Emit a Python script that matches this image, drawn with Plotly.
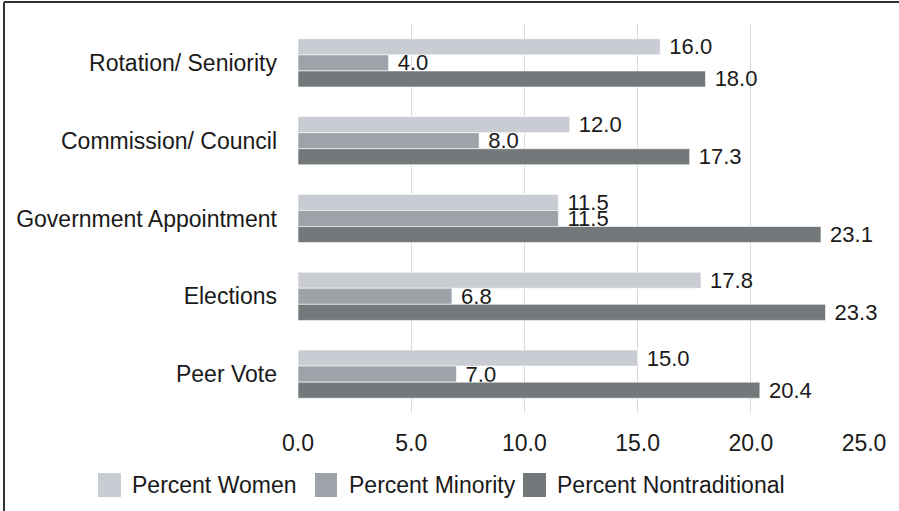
import plotly.graph_objects as go

categories = ["Rotation/ Seniority", "Commission/ Council", "Government Appointment", "Elections", "Peer Vote"]
series_names = ["Percent Women", "Percent Minority", "Percent Nontraditional"]
women = [16.0, 12.0, 11.5, 17.8, 15.0]
minority = [4.0, 8.0, 11.5, 6.8, 7.0]
nontraditional = [18.0, 17.3, 23.1, 23.3, 20.4]
colors = ["#c9ccd3", "#9ea3a9", "#73787a"]
x_ticks = [0, 5, 10, 15, 20, 25]
x_ticklabels = ["0.0", "5.0", "10.0", "15.0", "20.0", "25.0"]

W, H = 899, 511
ML, MR, MT, MB = 298, 35, 24, 98
PW, PH = W - ML - MR, H - MT - MB

def px(x):
    return (x - ML) / PW

def py(y):
    return (H - MB - y) / PH

FONT = "Liberation Sans, Arial, sans-serif"
FS = 23
fig = go.Figure()
for name, vals, col in zip(series_names, [women, minority, nontraditional], colors):
    fig.add_trace(go.Bar(
        y=categories, x=vals, name=name, orientation="h",
        marker=dict(color=col, line=dict(color="white", width=0.6)),
        text=["\u00a0" + f"{v:.1f}" for v in vals], textposition="outside",
        constraintext="none",
        textfont=dict(family=FONT, size=22, color="#1a1a1a"),
        cliponaxis=False, showlegend=False,
    ))

shapes = []
annotations = []
legend_items = [(98, 121, 130), (315, 337, 347), (523, 546, 555)]
for (x0, x1, tx), name, col in zip(legend_items, series_names, colors):
    shapes.append(dict(type="rect", xref="paper", yref="paper",
                       x0=px(x0), x1=px(x1), y0=py(497), y1=py(473),
                       fillcolor=col, line=dict(width=0)))
    annotations.append(dict(xref="paper", yref="paper", x=px(tx), y=py(485),
                            xanchor="left", yanchor="middle", text=name, showarrow=False,
                            font=dict(family=FONT, size=FS, color="#1a1a1a")))
# frame lines (left and top)
shapes.append(dict(type="line", xref="paper", yref="paper", x0=px(4), x1=px(4), y0=py(2), y1=py(511),
                   line=dict(color="#333333", width=2)))
shapes.append(dict(type="line", xref="paper", yref="paper", x0=px(4), x1=px(899), y0=py(2), y1=py(2),
                   line=dict(color="#333333", width=2)))

fig.update_layout(
    width=W, height=H,
    margin=dict(l=ML, r=MR, t=MT, b=MB, pad=0),
    paper_bgcolor="white", plot_bgcolor="white",
    barmode="group", bargap=0.38, bargroupgap=0,
    font=dict(family=FONT, size=FS, color="#1a1a1a"),
    shapes=shapes, annotations=annotations,
)
fig.update_xaxes(range=[0, 25], tickvals=x_ticks, ticktext=x_ticklabels,
                 showgrid=True, gridcolor="#d9d9de", gridwidth=1,
                 zeroline=False, showline=False, ticks="", ticklabelstandoff=14,
                 tickfont=dict(family=FONT, size=FS, color="#1a1a1a"))
fig.update_yaxes(autorange="reversed", showgrid=False, zeroline=False, showline=False,
                 ticks="", ticklabelstandoff=20,
                 tickfont=dict(family=FONT, size=FS, color="#1a1a1a"))

fig.write_html("out.html")
